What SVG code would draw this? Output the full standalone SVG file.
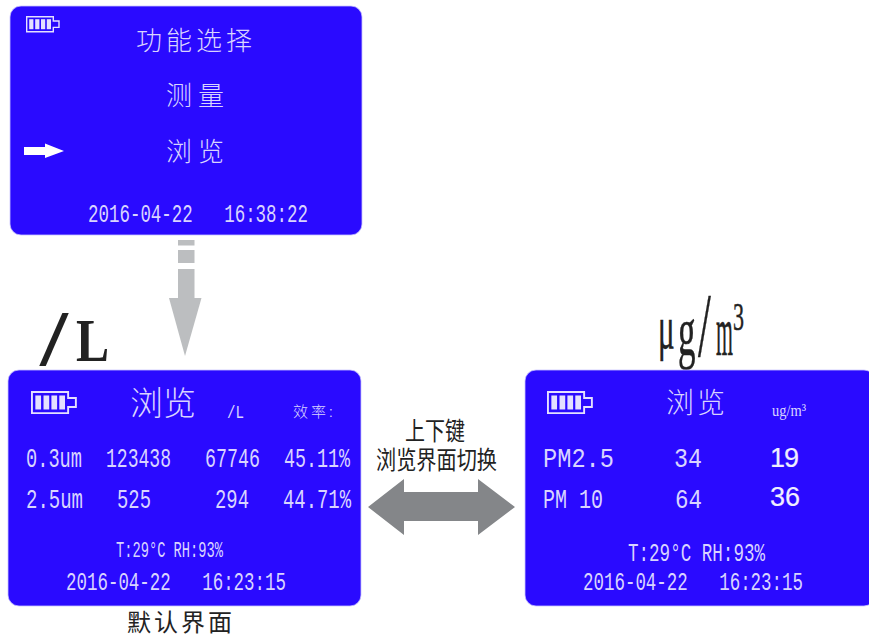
<svg xmlns="http://www.w3.org/2000/svg" width="869" height="636" viewBox="0 0 869 636">
<style>
.p{fill:#2a0aff;stroke:#c9c4ff;stroke-width:.8}
.t{fill:#d9d4ff;font-family:"Liberation Mono",monospace}
.c{fill:#d9d4ff;font-family:"Noto Sans CJK SC",sans-serif;font-weight:300}
.k{fill:#222;font-family:"Noto Sans CJK SC",sans-serif;font-weight:400}
.s{fill:#222;stroke:#222;stroke-width:.5;font-family:"Liberation Serif",serif}
.d{font-size:25px}
.n{font-size:28px}
.b{fill:none;stroke:#e4e0ff;stroke-width:1.4}
.w{fill:#e4e0ff}
</style>
<defs>
<g id="bat">
<path class="b" d="M.7.7H27.300V5H33V11.400H27.300V15.800H.7Z"/>
<rect class="w" x="3.200" y="3.200" width="4.200" height="10"/>
<rect class="w" x="9.200" y="3.200" width="4.200" height="10"/>
<rect class="w" x="15" y="3.200" width="4.200" height="10"/>
<rect class="w" x="20.800" y="3.200" width="4.200" height="10"/>
</g>
</defs>
<rect width="869" height="636" fill="#fff"/>
<g id="connectors">
<g fill="#bcbec0">
<rect x="178" y="240" width="16.500" height="5.500"/>
<rect x="178" y="250" width="16.500" height="13"/>
<rect x="178" y="269" width="16.500" height="29"/>
<path d="M169 298H201.500L185 356Z"/>
</g>
<path fill="#848689" d="M368 507L404 479V492H478V479L515 507L478 535V521H404V535Z"/>
</g>
<g id="menu-screen">
<rect class="p" x="10" y="6" width="352" height="229" rx="11"/>
<use href="#bat" x="26" y="16"/>
<text class="c" x="136" y="50" font-size="26" letter-spacing="4">功能选择</text>
<text class="c" x="166" y="105" font-size="26" letter-spacing="6">测量</text>
<text class="c" x="166" y="161" font-size="26" letter-spacing="6">浏览</text>
<path fill="#fff" d="M24 147H45V143.500L64 151L45 158V155H24Z"/>
<text class="t d" x="88" y="222" textLength="220" lengthAdjust="spacingAndGlyphs" xml:space="preserve">2016-04-22   16:38:22</text>
</g>
<g id="default-label">
<text transform="translate(32 361) scale(.8 1)" fill="#222" font-weight="700"><tspan font-family="Liberation Mono,monospace" font-size="72" x="6" y="4">/</tspan><tspan font-family="Liberation Serif,serif" font-size="62" x="55" y="0">L</tspan></text>
</g>
<g id="default-screen">
<rect class="p" x="8" y="370" width="353" height="236" rx="11"/>
<use href="#bat" transform="translate(31 391) scale(1.360 1.400)"/>
<text class="c" x="130" y="415" font-size="33">浏览</text>
<text class="t" x="227" y="418" font-size="18" textLength="17" lengthAdjust="spacingAndGlyphs">/L</text>
<text class="c" x="293" y="417" font-size="15" letter-spacing="3">效率:</text>
<g class="t n">
<text x="26" y="467" textLength="56" lengthAdjust="spacingAndGlyphs">0.3um</text>
<text x="106" y="467" textLength="65" lengthAdjust="spacingAndGlyphs">123438</text>
<text x="205" y="467" textLength="55" lengthAdjust="spacingAndGlyphs">67746</text>
<text x="284" y="467" textLength="66" lengthAdjust="spacingAndGlyphs">45.11%</text>
<text x="26" y="508" textLength="57" lengthAdjust="spacingAndGlyphs">2.5um</text>
<text x="117" y="508" textLength="34" lengthAdjust="spacingAndGlyphs">525</text>
<text x="215" y="508" textLength="34" lengthAdjust="spacingAndGlyphs">294</text>
<text x="283" y="508" textLength="68" lengthAdjust="spacingAndGlyphs">44.71%</text>
</g>
<text class="t" x="116" y="557" font-size="22" textLength="107" lengthAdjust="spacingAndGlyphs">T:29°C RH:93%</text>
<text class="t d" x="66" y="590" textLength="220" lengthAdjust="spacingAndGlyphs" xml:space="preserve">2016-04-22   16:23:15</text>
</g>
<g id="default-caption">
<text class="k" x="127" y="631" font-size="24" letter-spacing="3">默认界面</text>
</g>
<g id="switch-label">
<text class="k" x="405" y="440" font-size="25" textLength="60" lengthAdjust="spacingAndGlyphs">上下键</text>
<text class="k" x="376" y="469" font-size="25" textLength="121" lengthAdjust="spacingAndGlyphs">浏览界面切换</text>
</g>
<g id="mass-label">
<text class="s" transform="translate(657 355) scale(.5 1)" font-size="70"><tspan x="2" y="-7" font-size="62">μ</tspan><tspan x="42" y="0">g</tspan><tspan x="82" y="1" font-size="92">/</tspan></text>
<text class="s" transform="translate(716 355) scale(.31 1)" font-size="70">m</text>
<text class="s" transform="translate(733 330) scale(.55 1)" font-size="40">3</text>
</g>
<g id="mass-screen">
<rect class="p" x="525" y="370" width="350" height="236" rx="11"/>
<use href="#bat" transform="translate(547 391) scale(1.360 1.400)"/>
<text class="c" x="666" y="413" font-size="28" letter-spacing="3">浏览</text>
<text x="772" y="416" font-family="Liberation Serif,serif" fill="#d9d4ff" font-size="17" textLength="34" lengthAdjust="spacingAndGlyphs">ug/m³</text>
<g class="t n">
<text x="543" y="467" textLength="71" lengthAdjust="spacingAndGlyphs">PM2.5</text>
<text x="674" y="467" textLength="28" lengthAdjust="spacingAndGlyphs">34</text>
<text x="543" y="508" textLength="60" lengthAdjust="spacingAndGlyphs" xml:space="preserve">PM 10</text>
<text x="675" y="508" textLength="27" lengthAdjust="spacingAndGlyphs">64</text>
</g>
<g font-family="Liberation Sans,sans-serif" font-size="27" fill="#f0eeff" stroke="#f0eeff" stroke-width=".2">
<text x="770" y="467" textLength="29">19</text>
<text x="770" y="506" textLength="30">36</text>
</g>
<text class="t" x="628" y="561" font-size="25" textLength="137" lengthAdjust="spacingAndGlyphs">T:29°C RH:93%</text>
<text class="t d" x="583" y="590" textLength="220" lengthAdjust="spacingAndGlyphs" xml:space="preserve">2016-04-22   16:23:15</text>
</g>
</svg>
